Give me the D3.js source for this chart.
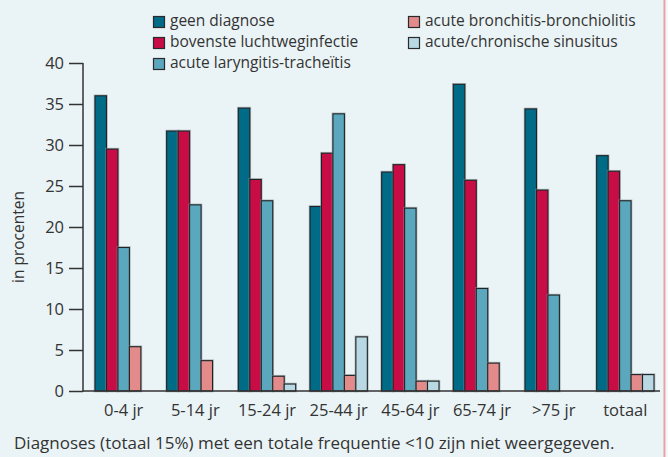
<!DOCTYPE html>
<html><head><meta charset="utf-8">
<script src="https://cdn.jsdelivr.net/npm/d3@7/dist/d3.min.js"></script>
<style>
html,body{margin:0;padding:0;background:#f4f8fa;}
svg{display:block;font-family:"Open Sans","DejaVu Sans",sans-serif;}
</style></head><body>
<svg id="c" width="668" height="457"></svg>
<script>
const categories = ["0-4 jr","5-14 jr","15-24 jr","25-44 jr","45-64 jr","65-74 jr",">75 jr","totaal"];
const seriesNames = ["geen diagnose","bovenste luchtweginfectie","acute laryngitis-tracheïtis","acute bronchitis-bronchiolitis","acute/chronische sinusitus"];
const geenDiagnose = [36.0,31.7,34.5,22.5,26.7,37.4,34.4,28.7];
const bovensteLuchtweg = [29.5,31.7,25.8,29.0,27.6,25.7,24.5,26.8];
const laryngitis = [17.5,22.7,23.2,33.8,22.3,12.5,11.7,23.2];
const bronchitis = [5.4,3.7,1.8,1.9,1.2,3.4,0,2.0];
const sinusitus = [0,0,0.85,6.6,1.2,0,0,2.0];
const yTicks = [0,5,10,15,20,25,30,35,40];
const footnote = "Diagnoses (totaal 15%) met een totale frequentie <10 zijn niet weergegeven.";
const yLabel = "in procenten";

const seriesValues = [geenDiagnose,bovensteLuchtweg,laryngitis,bronchitis,sinusitus];
const colors = ["#006b87","#c80c46","#5ba7bd","#e38b8b","#b8d8e3"];

const svg = d3.select("#c");
svg.append("rect").attr("x",0).attr("y",0).attr("width",664).attr("height",457).attr("fill","#eaf3f6");
svg.append("rect").attr("x",663.5).attr("y",0).attr("width",2).attr("height",457).attr("fill","#e8a4a4");

const y = d3.scaleLinear().domain([0,40]).range([391,63]);
const x0 = d3.scaleBand().domain(categories).range([95,654]).paddingInner(0.2).paddingOuter(0);
const x1 = d3.scaleBand().domain(d3.range(5)).range([0,x0.bandwidth()]);

// axes
const yAxis = d3.axisLeft(y).tickValues(yTicks).tickSize(14).tickPadding(5);
const gy = svg.append("g").attr("transform","translate(83,0)").call(yAxis);
gy.select(".domain").remove();
gy.selectAll(".tick line").attr("stroke","#333").attr("stroke-width",1.5);
gy.selectAll(".tick text").attr("fill","#333").style("font-size","16.5px").style("font-family","'Open Sans',sans-serif");
svg.append("line").attr("x1",83).attr("x2",83).attr("y1",y(40)).attr("y2",y(0)+0.75).attr("stroke","#333").attr("stroke-width",1.5);

// bars
const groups = svg.append("g").selectAll("g").data(categories).join("g")
  .attr("transform",c=>`translate(${x0(c)},0)`);
groups.each(function(c,ci){
  const g = d3.select(this);
  seriesValues.forEach((vals,si)=>{
    const v = vals[ci];
    if(!v) return;
    g.append("rect").attr("x",x1(si)).attr("y",y(v)).attr("width",x1.bandwidth()).attr("height",y(0)-y(v))
      .attr("fill","none").attr("stroke","#8a9296").attr("stroke-width",2.6).attr("opacity",0.6);
    g.append("rect").attr("x",x1(si)).attr("y",y(v)).attr("width",x1.bandwidth()).attr("height",y(0)-y(v))
      .attr("fill",colors[si]).attr("stroke","#1e2426").attr("stroke-width",1.1);
  });
});

svg.append("line").attr("x1",83).attr("x2",660).attr("y1",y(0)).attr("y2",y(0)).attr("stroke","#333").attr("stroke-width",1.5);

// x labels
const xAxis = d3.axisBottom(x0).tickSize(0).tickPadding(13);
const gx = svg.append("g").attr("transform",`translate(0,${y(0)})`).call(xAxis);
gx.select(".domain").remove();
gx.selectAll(".tick text").attr("fill","#333").style("font-size","16.5px").style("font-family","'Open Sans',sans-serif");

// y label
svg.append("text").attr("transform","translate(24,237) rotate(-90)").attr("text-anchor","middle")
  .attr("fill","#333").style("font-size","15.5px").text(yLabel);

// legend
const legPos = [[153,16],[153,37],[153,58],[408,16],[408,37]];
seriesNames.forEach((n,i)=>{
  const [lx,ly]=legPos[i];
  svg.append("rect").attr("x",lx+0.5).attr("y",ly+0.5).attr("width",11).attr("height",11)
    .attr("fill",colors[i]).attr("stroke","#2a2a2a").attr("stroke-width",1.2);
  svg.append("text").attr("x",lx+17).attr("y",ly+10).attr("fill","#333").style("font-size","15.5px").text(n);
});

svg.append("text").attr("x",14).attr("y",449).attr("fill","#333").style("font-size","17px").text(footnote);
</script>
</body></html>
